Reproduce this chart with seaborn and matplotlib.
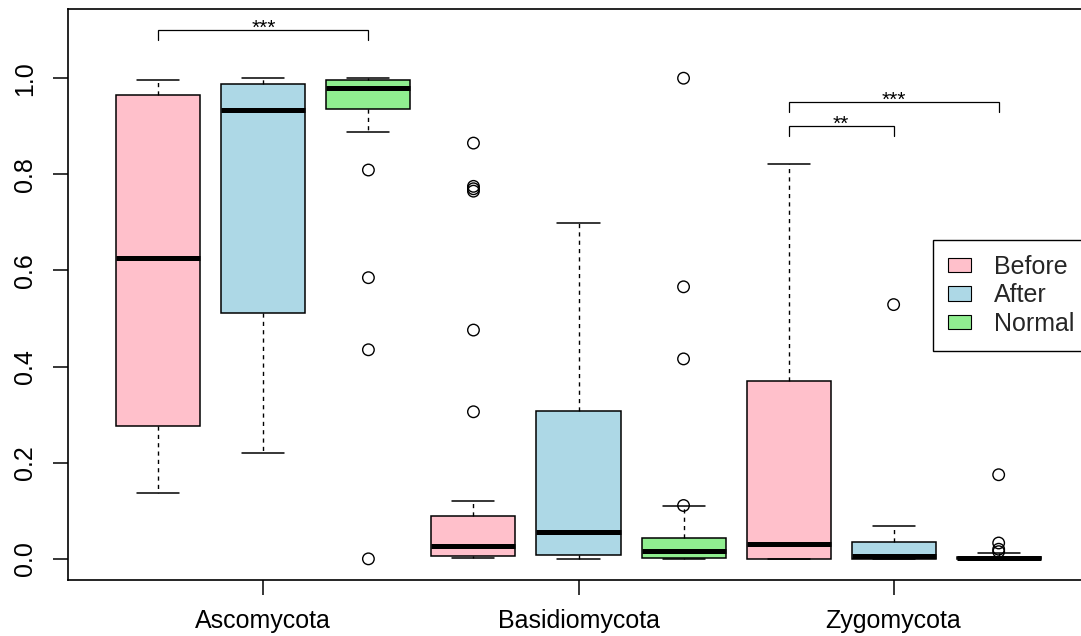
import matplotlib
matplotlib.use("Agg")
import matplotlib.pyplot as plt
from matplotlib.patches import Patch
import seaborn as sns
import pandas as pd

# Relative abundance of fungal phyla per group: five-number summaries
# (lower whisker, Q1, median, Q3, upper whisker) and the outlying samples.
phyla = ["Ascomycota", "Basidiomycota", "Zygomycota"]
groups = ["Before", "After", "Normal"]
colors = ["#FFC0CB", "#ADD8E6", "#90EE90"]

asco_before = [0.136, 0.277, 0.625, 0.965, 0.997]
asco_after = [0.220, 0.512, 0.933, 0.988, 1.000]
asco_normal = [0.888, 0.936, 0.979, 0.997, 1.000]
basid_before = [0.001, 0.006, 0.026, 0.089, 0.121]
basid_after = [0.000, 0.007, 0.055, 0.308, 0.698]
basid_normal = [0.000, 0.001, 0.017, 0.044, 0.109]
zygo_before = [0.000, 0.000, 0.031, 0.371, 0.821]
zygo_after = [0.000, 0.000, 0.005, 0.035, 0.069]
zygo_normal = [0.000, 0.000, 0.002, 0.004, 0.012]

asco_normal_out = [0.809, 0.585, 0.435, 0.000]
basid_before_out = [0.865, 0.775, 0.770, 0.765, 0.476, 0.306]
basid_normal_out = [1.000, 0.566, 0.416, 0.111]
zygo_after_out = [0.529]
zygo_normal_out = [0.175, 0.033, 0.020, 0.015]

# significance brackets: (phylum, group a, group b, label, bracket height)
comparisons = [
    ("Ascomycota", "Before", "Normal", "***", 1.10),
    ("Zygomycota", "Before", "Normal", "***", 0.95),
    ("Zygomycota", "Before", "After", "**", 0.90),
]

summaries = {
    ("Ascomycota", "Before"): asco_before,
    ("Ascomycota", "After"): asco_after,
    ("Ascomycota", "Normal"): asco_normal,
    ("Basidiomycota", "Before"): basid_before,
    ("Basidiomycota", "After"): basid_after,
    ("Basidiomycota", "Normal"): basid_normal,
    ("Zygomycota", "Before"): zygo_before,
    ("Zygomycota", "After"): zygo_after,
    ("Zygomycota", "Normal"): zygo_normal,
}
outliers = {
    ("Ascomycota", "Normal"): asco_normal_out,
    ("Basidiomycota", "Before"): basid_before_out,
    ("Basidiomycota", "Normal"): basid_normal_out,
    ("Zygomycota", "After"): zygo_after_out,
    ("Zygomycota", "Normal"): zygo_normal_out,
}

slots = [f"{p}|{g}" for p in phyla for g in groups]
box_df = pd.DataFrame(
    [{"slot": f"{p}|{g}", "group": g, "value": v}
     for (p, g), vals in summaries.items() for v in vals]
)
out_df = pd.DataFrame(
    [{"slot": f"{p}|{g}", "group": g, "value": v}
     for (p, g), vals in outliers.items() for v in vals]
)

sns.set_theme(style="ticks")
plt.rcParams["font.family"] = ["Liberation Sans", "DejaVu Sans"]

W, H = 1081, 636
fig = plt.figure(figsize=(W / 100, H / 100), dpi=100)
ax = fig.add_axes([68 / W, 56 / H, (1089 - 68) / W, (580 - 9) / H])

palette = dict(zip(groups, colors))
sns.boxplot(
    data=box_df, x="slot", y="value", hue="group", order=slots,
    hue_order=groups, palette=palette, dodge=False, whis=(0, 100),
    width=0.8, saturation=1, linecolor="black", linewidth=1.1,
    legend=False, ax=ax,
    medianprops={"linewidth": 3.6, "color": "black", "solid_capstyle": "butt"},
    whiskerprops={"linestyle": (0, (3, 3)), "linewidth": 1.0},
    capprops={"linewidth": 1.1},
)

sns.stripplot(
    data=out_df, x="slot", y="value", order=slots, jitter=False,
    dodge=False, size=8.3, color="black", linewidth=1.0, ax=ax,
)
for coll in ax.collections:
    coll.set_facecolor("none")
    coll.set_edgecolor("black")
    coll.set_linewidth(1.0)

# significance brackets
tick_drop = 0.02
for phylum, ga, gb, label, h in comparisons:
    xa = slots.index(f"{phylum}|{ga}")
    xb = slots.index(f"{phylum}|{gb}")
    ax.plot([xa, xa, xb, xb], [h - tick_drop, h, h, h - tick_drop],
            color="black", linewidth=0.9, solid_joinstyle="miter")
    ax.text((xa + xb) / 2, h - 0.008, label, ha="center", va="baseline",
            fontsize=15, color="black")

ax.set_xlim(-0.86, 8.86)
ax.set_ylim(-0.044, 1.144)

centers = [slots.index(f"{p}|After") for p in phyla]
ax.set_xticks(centers)
ax.set_xticklabels(phyla)
ax.set_yticks([0.0, 0.2, 0.4, 0.6, 0.8, 1.0])
ax.set_yticklabels(["0.0", "0.2", "0.4", "0.6", "0.8", "1.0"],
                   rotation=90, va="center")
ax.tick_params(axis="both", labelsize=18, length=11, width=1.1,
               color="black", labelcolor="black")
ax.tick_params(axis="x", pad=10)
ax.tick_params(axis="y", pad=11)
ax.set_xlabel("")
ax.set_ylabel("")

for side in ["left", "right", "top", "bottom"]:
    ax.spines[side].set_visible(True)
    ax.spines[side].set_color("black")
    ax.spines[side].set_linewidth(1.2)

handles = [Patch(facecolor=c, edgecolor="black", linewidth=0.8) for c in colors]
leg = ax.legend(
    handles, groups, loc="upper left", bbox_to_anchor=(933 / W, 1 - 240 / H),
    bbox_transform=fig.transFigure, borderaxespad=0, fontsize=18,
    frameon=True, fancybox=False, framealpha=1, edgecolor="black",
    handlelength=0.9, handleheight=0.52, handletextpad=0.95,
    labelspacing=0.18, borderpad=0.6,
)
leg.get_frame().set_linewidth(1.0)

fig.savefig("out.png", dpi=100)
